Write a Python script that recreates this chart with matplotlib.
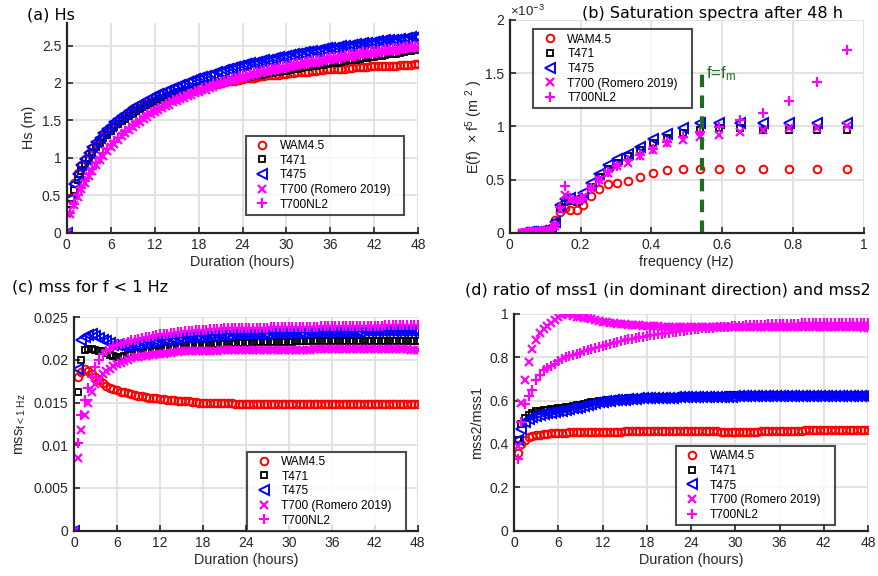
import numpy as np
import matplotlib
matplotlib.use("Agg")
import matplotlib.pyplot as plt
from matplotlib.ticker import FormatStrFormatter

plt.rcParams['font.family'] = ['Liberation Sans', 'DejaVu Sans']
plt.rcParams['mathtext.default'] = 'regular'

# ---- data -------------------------------------------------------------
names = ['WAM4.5', 'T471', 'T475', 'T700 (Romero 2019)   ', 'T700NL2']

# duration (hours), one output every half hour
t = [i * 0.5 for i in range(97)]

# (a) Hs (m)   first row: 0..6 h, then one row per 6 h
hs_wam = [0, .47, .66, .80, .90, .99, 1.06, 1.13, 1.19, 1.25, 1.30, 1.35, 1.40,
          1.44, 1.48, 1.52, 1.55, 1.58, 1.61, 1.64, 1.67, 1.70, 1.72, 1.74, 1.76,
          1.78, 1.80, 1.82, 1.83, 1.85, 1.86, 1.88, 1.89, 1.91, 1.92, 1.93, 1.94,
          1.95, 1.96, 1.97, 1.98, 1.99, 2.00, 2.01, 2.02, 2.03, 2.03, 2.04, 2.05,
          2.06, 2.06, 2.07, 2.08, 2.09, 2.09, 2.10, 2.10, 2.11, 2.11, 2.12, 2.12,
          2.13, 2.13, 2.14, 2.14, 2.15, 2.15, 2.16, 2.16, 2.17, 2.17, 2.18, 2.18,
          2.19, 2.19, 2.19, 2.19, 2.20, 2.20, 2.21, 2.21, 2.21, 2.21, 2.22, 2.22,
          2.22, 2.22, 2.23, 2.23, 2.23, 2.23, 2.24, 2.24, 2.24, 2.24, 2.25, 2.25]
hs_t471 = [0, .38, .57, .71, .83, .92, 1.00, 1.07, 1.14, 1.20, 1.26, 1.31, 1.36,
           1.41, 1.45, 1.49, 1.52, 1.56, 1.59, 1.62, 1.65, 1.68, 1.70, 1.73, 1.75,
           1.77, 1.79, 1.81, 1.83, 1.85, 1.86, 1.88, 1.89, 1.91, 1.92, 1.94, 1.95,
           1.96, 1.97, 1.98, 1.99, 2.00, 2.01, 2.02, 2.03, 2.04, 2.05, 2.06, 2.06,
           2.07, 2.08, 2.09, 2.10, 2.11, 2.12, 2.13, 2.13, 2.14, 2.15, 2.16, 2.16,
           2.17, 2.18, 2.19, 2.20, 2.21, 2.21, 2.22, 2.23, 2.24, 2.24, 2.25, 2.26,
           2.27, 2.27, 2.28, 2.29, 2.30, 2.30, 2.31, 2.32, 2.33, 2.33, 2.34, 2.35,
           2.36, 2.36, 2.37, 2.38, 2.39, 2.39, 2.40, 2.41, 2.42, 2.43, 2.44, 2.45]
hs_t475 = [0, .45, .65, .79, .90, .99, 1.07, 1.14, 1.21, 1.27, 1.33, 1.38, 1.43,
           1.48, 1.52, 1.56, 1.59, 1.63, 1.66, 1.69, 1.72, 1.75, 1.77, 1.80, 1.82,
           1.85, 1.87, 1.89, 1.91, 1.93, 1.95, 1.97, 1.99, 2.01, 2.03, 2.05, 2.06,
           2.08, 2.09, 2.11, 2.12, 2.14, 2.15, 2.17, 2.18, 2.20, 2.21, 2.23, 2.24,
           2.25, 2.26, 2.27, 2.28, 2.29, 2.30, 2.31, 2.32, 2.33, 2.34, 2.35, 2.36,
           2.37, 2.38, 2.39, 2.40, 2.41, 2.41, 2.42, 2.43, 2.44, 2.45, 2.46, 2.46,
           2.47, 2.48, 2.49, 2.49, 2.50, 2.51, 2.52, 2.52, 2.53, 2.53, 2.54, 2.55,
           2.56, 2.56, 2.57, 2.57, 2.58, 2.58, 2.59, 2.59, 2.60, 2.61, 2.62, 2.62]
hs_t700 = [0, .25, .37, .48, .58, .67, .76, .83, .90, .97, 1.03, 1.09, 1.14,
           1.19, 1.24, 1.29, 1.33, 1.37, 1.41, 1.45, 1.48, 1.52, 1.55, 1.58, 1.61,
           1.64, 1.66, 1.69, 1.71, 1.74, 1.76, 1.78, 1.80, 1.82, 1.84, 1.86, 1.88,
           1.90, 1.91, 1.93, 1.95, 1.97, 1.98, 2.00, 2.01, 2.03, 2.04, 2.06, 2.07,
           2.08, 2.09, 2.11, 2.12, 2.13, 2.14, 2.15, 2.16, 2.17, 2.18, 2.19, 2.20,
           2.21, 2.22, 2.23, 2.24, 2.25, 2.26, 2.27, 2.27, 2.28, 2.29, 2.30, 2.31,
           2.32, 2.32, 2.33, 2.34, 2.35, 2.35, 2.36, 2.37, 2.38, 2.38, 2.39, 2.39,
           2.40, 2.41, 2.42, 2.42, 2.43, 2.43, 2.44, 2.45, 2.46, 2.46, 2.47, 2.47]
hs_nl2 = [0, .26, .39, .50, .60, .69, .78, .85, .93, 1.00, 1.06, 1.12, 1.17,
          1.22, 1.27, 1.32, 1.36, 1.40, 1.44, 1.48, 1.51, 1.55, 1.58, 1.61, 1.64,
          1.67, 1.69, 1.72, 1.74, 1.77, 1.79, 1.81, 1.83, 1.85, 1.87, 1.89, 1.91,
          1.93, 1.94, 1.96, 1.98, 2.00, 2.01, 2.03, 2.04, 2.06, 2.07, 2.09, 2.10,
          2.11, 2.12, 2.14, 2.15, 2.16, 2.17, 2.18, 2.19, 2.20, 2.21, 2.22, 2.23,
          2.24, 2.25, 2.26, 2.27, 2.28, 2.29, 2.30, 2.30, 2.31, 2.32, 2.33, 2.34,
          2.35, 2.35, 2.36, 2.37, 2.38, 2.38, 2.39, 2.40, 2.41, 2.41, 2.42, 2.42,
          2.43, 2.44, 2.45, 2.45, 2.46, 2.46, 2.47, 2.48, 2.49, 2.49, 2.50, 2.50]

# (b) saturation spectra after 48 h, E(f) f^5 in units of 1e-3 m^2
freq = [0.0339, 0.0373, 0.0410, 0.0451, 0.0496, 0.0546, 0.0601, 0.0661, 0.0727,
        0.0800, 0.0880, 0.0968, 0.1064, 0.1171, 0.1288, 0.1417, 0.1558, 0.1714,
        0.1886, 0.2074, 0.2282, 0.2510, 0.2761, 0.3037, 0.3341, 0.3675, 0.4042,
        0.4446, 0.4891, 0.5380, 0.5918, 0.6510, 0.7161, 0.7877, 0.8665, 0.9531]
sp_wam = [0, 0, 0, 0, .001, .002, .003, .005, .007, .009, .012, .015, .02, .04, .12,
          .19, .23, .21, .21, .26, .345, .41, .458, .47, .49, .527, .564, .59, .60,
          .596, .596, .596, .596, .596, .596, .596]
sp_t471 = [0, 0, 0, 0, .001, .002, .003, .005, .007, .009, .012, .015, .02, .035, .09,
           .22, .30, .30, .29, .33, .43, .52, .60, .66, .72, .78, .84, .89, .94,
           .97, .98, .98, .97, .97, .97, .97]
sp_t475 = [0, 0, 0, 0, .001, .002, .003, .005, .007, .009, .012, .015, .02, .04, .10,
           .26, .32, .33, .32, .37, .47, .55, .636, .69, .74, .81, .88, .93, .98,
           1.03, 1.03, 1.03, 1.03, 1.03, 1.03, 1.03]
sp_t700 = [0, 0, 0, 0, .001, .002, .003, .005, .007, .009, .012, .015, .02, .03, .06,
           .21, .355, .31, .31, .34, .42, .50, .56, .63, .66, .72, .78, .84, .87,
           .90, .92, .95, .97, .98, .98, 1.00]
sp_nl2 = [0, 0, 0, 0, .001, .002, .003, .005, .007, .009, .012, .015, .02, .03, .07,
          .24, .44, .33, .30, .32, .42, .50, .57, .63, .68, .73, .79, .85, .90,
          .95, .99, 1.06, 1.13, 1.24, 1.42, 1.72]
f_m = 0.543
f_m_top = 1.52

# (c) mss for f < 1 Hz, in units of 1e-3
mss_wam = [0, 18.0, 18.6, 18.9, 18.7, 18.4, 18.0, 17.6, 17.3, 17.0, 16.7, 16.6, 16.5,
           16.3, 16.2, 16.1, 16.0, 15.9, 15.8, 15.8, 15.7, 15.6, 15.5, 15.5, 15.4,
           15.4, 15.3, 15.3, 15.3, 15.2, 15.2, 15.2, 15.2, 15.1, 15.1, 15.0, 15.0,
           15.0, 15.0, 15.0, 15.0, 15.0, 15.0, 15.0, 15.0, 14.9, 14.9, 14.9, 14.9,
           14.9, 14.9, 14.9, 14.9, 14.8, 14.8, 14.8, 14.8, 14.8, 14.8, 14.8, 14.8,
           14.8, 14.8, 14.8, 14.8, 14.8, 14.8, 14.9, 14.9, 14.9, 14.9, 14.9, 14.9,
           14.9, 14.9, 14.9, 14.9, 14.9, 14.9, 14.9, 14.9, 14.9, 14.9, 14.9, 14.9,
           14.9, 14.9, 14.9, 14.9, 14.9, 14.9, 14.9, 14.9, 14.9, 14.9, 14.9, 14.9]
mss_t471 = [0, 16.3, 20.0, 21.2, 21.3, 21.3, 21.2, 21.1, 21.0, 20.8, 20.6, 20.5, 20.4,
            20.4, 20.5, 20.6, 20.7, 20.8, 20.9, 20.95, 21.0, 21.05, 21.1, 21.2, 21.3,
            21.35, 21.4, 21.45, 21.5, 21.55, 21.6, 21.65, 21.7, 21.7, 21.7, 21.75, 21.8,
            21.8, 21.8, 21.85, 21.9, 21.9, 21.9, 21.9, 21.9, 21.95, 22.0, 22.0, 22.0,
            22.0, 22.0, 22.05, 22.1, 22.1, 22.1, 22.1, 22.1, 22.1, 22.1, 22.1, 22.1,
            22.15, 22.2, 22.2, 22.2, 22.2, 22.2, 22.2, 22.2, 22.2, 22.2, 22.2, 22.2,
            22.2, 22.2, 22.2, 22.2, 22.2, 22.2, 22.2, 22.2, 22.2, 22.2, 22.2, 22.2,
            22.2, 22.2, 22.2, 22.2, 22.2, 22.2, 22.2, 22.2, 22.2, 22.2, 22.2, 22.2]
mss_t475 = [0, 19.0, 22.3, 22.7, 22.9, 23.0, 22.8, 22.6, 22.4, 22.2, 22.0, 21.8, 21.7,
            21.6, 21.6, 21.65, 21.7, 21.8, 21.9, 21.95, 22.0, 22.05, 22.1, 22.2, 22.3,
            22.35, 22.4, 22.45, 22.5, 22.55, 22.6, 22.65, 22.7, 22.7, 22.7, 22.75, 22.8,
            22.8, 22.8, 22.85, 22.9, 22.9, 22.9, 22.95, 23.0, 23.0, 23.0, 23.0, 23.0,
            23.05, 23.1, 23.1, 23.1, 23.1, 23.1, 23.15, 23.2, 23.2, 23.2, 23.2, 23.2,
            23.2, 23.2, 23.2, 23.2, 23.25, 23.3, 23.3, 23.3, 23.3, 23.3, 23.3, 23.3,
            23.3, 23.3, 23.3, 23.3, 23.3, 23.3, 23.3, 23.3, 23.35, 23.4, 23.4, 23.4,
            23.4, 23.4, 23.4, 23.4, 23.4, 23.4, 23.4, 23.4, 23.4, 23.4, 23.4, 23.4]
mss_t700 = [0, 8.5, 11.8, 13.6, 15.0, 16.2, 17.2, 17.8, 18.3, 18.7, 19.0, 19.3, 19.5,
            19.7, 19.9, 20.05, 20.2, 20.3, 20.4, 20.45, 20.5, 20.55, 20.6, 20.65, 20.7,
            20.75, 20.8, 20.85, 20.9, 20.95, 21.0, 21.0, 21.0, 21.05, 21.1, 21.1, 21.1,
            21.1, 21.1, 21.1, 21.1, 21.15, 21.2, 21.2, 21.2, 21.2, 21.2, 21.2, 21.2,
            21.2, 21.2, 21.2, 21.2, 21.2, 21.2, 21.2, 21.2, 21.2, 21.2, 21.2, 21.2,
            21.2, 21.2, 21.2, 21.2, 21.2, 21.2, 21.25, 21.3, 21.3, 21.3, 21.3, 21.3,
            21.3, 21.3, 21.3, 21.3, 21.3, 21.3, 21.3, 21.3, 21.3, 21.3, 21.3, 21.3,
            21.3, 21.3, 21.3, 21.3, 21.3, 21.3, 21.3, 21.3, 21.25, 21.2, 21.2, 21.2]
mss_nl2 = [0, 10.3, 13.5, 15.3, 16.7, 18.0, 19.2, 20.0, 20.7, 21.0, 21.3, 21.6, 21.8,
           21.9, 22.0, 22.15, 22.3, 22.4, 22.5, 22.6, 22.7, 22.75, 22.8, 22.9, 23.0,
           23.05, 23.1, 23.15, 23.2, 23.25, 23.3, 23.35, 23.4, 23.45, 23.5, 23.5, 23.5,
           23.55, 23.6, 23.6, 23.6, 23.65, 23.7, 23.7, 23.7, 23.7, 23.7, 23.75, 23.8,
           23.8, 23.8, 23.8, 23.8, 23.8, 23.8, 23.85, 23.9, 23.9, 23.9, 23.9, 23.9,
           23.9, 23.9, 23.9, 23.9, 23.9, 23.9, 23.9, 23.9, 23.95, 24.0, 24.0, 24.0,
           24.0, 24.0, 24.0, 24.0, 24.0, 24.0, 24.0, 24.0, 24.0, 24.0, 24.0, 24.0,
           24.0, 24.0, 24.05, 24.1, 24.1, 24.1, 24.1, 24.1, 24.1, 24.1, 24.1, 24.1]

# (d) mss2/mss1 (undefined at t = 0)
r_wam = [np.nan, .36, .40, .42, .43, .435, .44, .443, .445, .447, .45, .451, .452,
         .452, .453, .454, .455, .455, .455, .455, .456, .456, .456, .457, .457,
         .457, .457, .457, .457, .457, .458, .458, .458, .458, .458, .458, .458,
         .458, .458, .458, .458, .458, .458, .458, .458, .458, .458, .458, .458,
         .458, .458, .458, .458, .458, .458, .458, .457, .457, .457, .457, .457,
         .457, .457, .457, .457, .457, .457, .458, .458, .459, .459, .460, .460,
         .461, .461, .462, .462, .462, .462, .463, .463, .463, .463, .463, .463,
         .463, .463, .463, .463, .463, .463, .463, .463, .463, .463, .463, .463]
r_t471 = [np.nan, .42, .49, .52, .535, .543, .55, .553, .555, .558, .56, .563, .565,
          .567, .57, .572, .575, .578, .582, .586, .59, .593, .595, .598, .60,
          .602, .603, .605, .606, .608, .609, .610, .611, .612, .613, .614, .615,
          .615, .616, .616, .617, .617, .618, .618, .619, .619, .620, .620, .621,
          .621, .622, .622, .622, .622, .623, .623, .623, .623, .624, .624, .624,
          .624, .624, .625, .625, .625, .625, .625, .625, .625, .626, .626, .626,
          .626, .626, .626, .627, .627, .627, .627, .627, .627, .627, .627, .627,
          .628, .628, .628, .628, .628, .628, .628, .628, .628, .628, .628, .628]
r_t475 = [np.nan, .42, .47, .50, .515, .523, .53, .535, .54, .543, .545, .548, .55,
          .553, .557, .561, .565, .568, .572, .576, .58, .584, .588, .592, .595,
          .597, .599, .601, .602, .604, .605, .606, .607, .609, .61, .61, .611,
          .611, .612, .612, .613, .613, .614, .614, .615, .615, .616, .616, .617,
          .617, .617, .617, .618, .618, .618, .618, .619, .619, .619, .619, .62,
          .62, .62, .62, .62, .62, .621, .621, .621, .621, .621, .621, .622,
          .622, .622, .622, .622, .622, .622, .622, .622, .623, .623, .623, .623,
          .623, .623, .623, .623, .623, .623, .623, .623, .623, .623, .623, .623]
r_t700 = [np.nan, .39, .59, .695, .78, .837, .88, .91, .93, .945, .96, .97, .985,
          .993, 1.0, .998, .99, .988, .985, .982, .98, .976, .972, .968, .965,
          .962, .96, .957, .955, .953, .952, .951, .95, .949, .948, .946, .945,
          .944, .943, .943, .942, .941, .94, .94, .94, .94, .94, .94, .94,
          .94, .94, .94, .94, .94, .94, .94, .94, .94, .94, .94, .94,
          .94, .94, .94, .94, .94, .94, .94, .94, .94, .94, .94, .94,
          .94, .94, .94, .94, .94, .94, .94, .94, .94, .94, .94, .94,
          .94, .94, .94, .94, .94, .94, .94, .94, .94, .94, .937, .935]
r_nl2 = [np.nan, .33, .50, .585, .62, .65, .695, .72, .74, .75, .76, .77, .785,
         .793, .80, .805, .81, .816, .822, .828, .834, .838, .843, .848, .852,
         .857, .862, .867, .872, .876, .879, .883, .886, .889, .892, .895, .898,
         .901, .904, .907, .909, .912, .914, .917, .919, .921, .923, .925, .927,
         .929, .931, .933, .934, .936, .937, .939, .94, .941, .942, .943, .944,
         .945, .946, .947, .948, .949, .95, .951, .951, .952, .952, .953, .954,
         .954, .955, .955, .956, .956, .957, .957, .957, .957, .958, .958, .958,
         .958, .959, .959, .959, .959, .96, .96, .96, .96, .96, .96, .96]

# ---- styles -----------------------------------------------------------
styles = [dict(marker='o', color='red', ms=5.5, mew=1.4, mfc='none'),
          dict(marker='s', color='black', ms=4.2, mew=1.3, mfc='none'),
          dict(marker='<', color='blue', ms=7, mew=1.4, mfc='none'),
          dict(marker='x', color='magenta', ms=6, mew=1.6),
          dict(marker='+', color='magenta', ms=7.5, mew=1.6)]

axcol = '#262626'


def style_axes(ax):
    for s in ['top', 'right']:
        ax.spines[s].set_visible(False)
    for s in ['left', 'bottom']:
        ax.spines[s].set_linewidth(1.6)
        ax.spines[s].set_color(axcol)
    ax.grid(True, color='#e2e2e2', lw=1.4)
    ax.set_axisbelow(True)
    ax.tick_params(direction='in', length=4, width=1.2, colors=axcol,
                   labelsize=10, pad=4)
    ax.yaxis.set_major_formatter(FormatStrFormatter('%g'))
    ax.xaxis.set_major_formatter(FormatStrFormatter('%g'))


def add_legend(ax, x, y):
    leg = ax.legend(loc='upper left', bbox_to_anchor=(x, y),
                    bbox_transform=fig.transFigure, borderaxespad=0,
                    fontsize=8.6, frameon=True, fancybox=False,
                    handlelength=2.0, handletextpad=0.5, labelspacing=0.22,
                    borderpad=0.36)
    leg.get_frame().set_edgecolor('#222222')
    leg.get_frame().set_linewidth(1.5)


def plot_series(ax, x, series):
    for y, name, st in zip(series, names, styles):
        ax.plot(x, y, ls='none', label=name, **st)


fig = plt.figure(figsize=(8.79, 5.76), dpi=100)

# (a)
ax1 = fig.add_axes([0.0759, 0.596, 0.400, 0.364])
plot_series(ax1, t, [hs_wam, hs_t471, hs_t475, hs_t700, hs_nl2])
ax1.set_xlim(0, 48)
ax1.set_ylim(0, 2.8)
ax1.set_xticks(range(0, 49, 6))
ax1.set_yticks([0, 0.5, 1, 1.5, 2, 2.5])
style_axes(ax1)
ax1.set_xlabel('Duration (hours)', fontsize=10.4, color=axcol, labelpad=2)
ax1.set_ylabel('Hs (m)', fontsize=10.4, color=axcol, labelpad=4)
add_legend(ax1, 0.2795, 0.7644)
fig.text(0.031, 0.974, '(a) Hs', family='DejaVu Sans', fontsize=11.5, va='center')

# (b)
ax2 = fig.add_axes([0.580, 0.596, 0.4027, 0.3693])
plot_series(ax2, freq, [sp_wam, sp_t471, sp_t475, sp_t700, sp_nl2])
ax2.vlines(f_m, 0, f_m_top, colors='#1f6b1f', lw=3, linestyles=(0, (3, 2)))
ax2.text(f_m + 0.012, 1.45, 'f=f$_m$', color='#1f6b1f', fontsize=12)
ax2.set_xlim(0, 1)
ax2.set_ylim(0, 2)
ax2.set_xticks([0, 0.2, 0.4, 0.6, 0.8, 1])
ax2.set_yticks([0, 0.5, 1, 1.5, 2])
style_axes(ax2)
ax2.set_xlabel('frequency (Hz)', fontsize=10.4, color=axcol, labelpad=2)
ax2.set_ylabel('E(f)  $\\times$ f$^5$ (m $^2$ )', fontsize=10.4, color=axcol, labelpad=0)
ax2.text(0.0, 1.005, '$\\times$10$^{-3}$', transform=ax2.transAxes, fontsize=9.5,
         color=axcol, va='bottom', ha='left')
add_legend(ax2, 0.6067, 0.949)
fig.text(0.662, 0.977, '(b) Saturation spectra after 48 h', family='DejaVu Sans',
         fontsize=11.5, va='center')

# (c)
ax3 = fig.add_axes([0.0842, 0.0787, 0.391, 0.3704])
plot_series(ax3, t, [np.array(s) * 1e-3 for s in
                     [mss_wam, mss_t471, mss_t475, mss_t700, mss_nl2]])
ax3.set_xlim(0, 48)
ax3.set_ylim(0, 0.025)
ax3.set_xticks(range(0, 49, 6))
ax3.set_yticks([0, 0.005, 0.01, 0.015, 0.02, 0.025])
style_axes(ax3)
ax3.set_xlabel('Duration (hours)', fontsize=10.4, color=axcol, labelpad=2)
ax3.set_ylabel('mss$_{f< 1\\ Hz}$', fontsize=10.4, color=axcol, labelpad=4)
add_legend(ax3, 0.2813, 0.2158)
fig.text(0.014, 0.502, '(c) mss for f < 1 Hz', family='DejaVu Sans',
         fontsize=11.5, va='center')

# (d)
ax4 = fig.add_axes([0.5848, 0.0787, 0.4027, 0.3762])
plot_series(ax4, t, [r_wam, r_t471, r_t475, r_t700, r_nl2])
ax4.set_xlim(0, 48)
ax4.set_ylim(0, 1)
ax4.set_xticks(range(0, 49, 6))
ax4.set_yticks([0, 0.2, 0.4, 0.6, 0.8, 1])
style_axes(ax4)
ax4.set_xlabel('Duration (hours)', fontsize=10.4, color=axcol, labelpad=2)
ax4.set_ylabel('mss2/mss1', fontsize=10.4, color=axcol, labelpad=4)
add_legend(ax4, 0.769, 0.2257)
fig.text(0.529, 0.497, '(d) ratio of mss1 (in dominant direction) and mss2',
         family='DejaVu Sans', fontsize=11.5, va='center')

plt.savefig('out.png', dpi=100)
